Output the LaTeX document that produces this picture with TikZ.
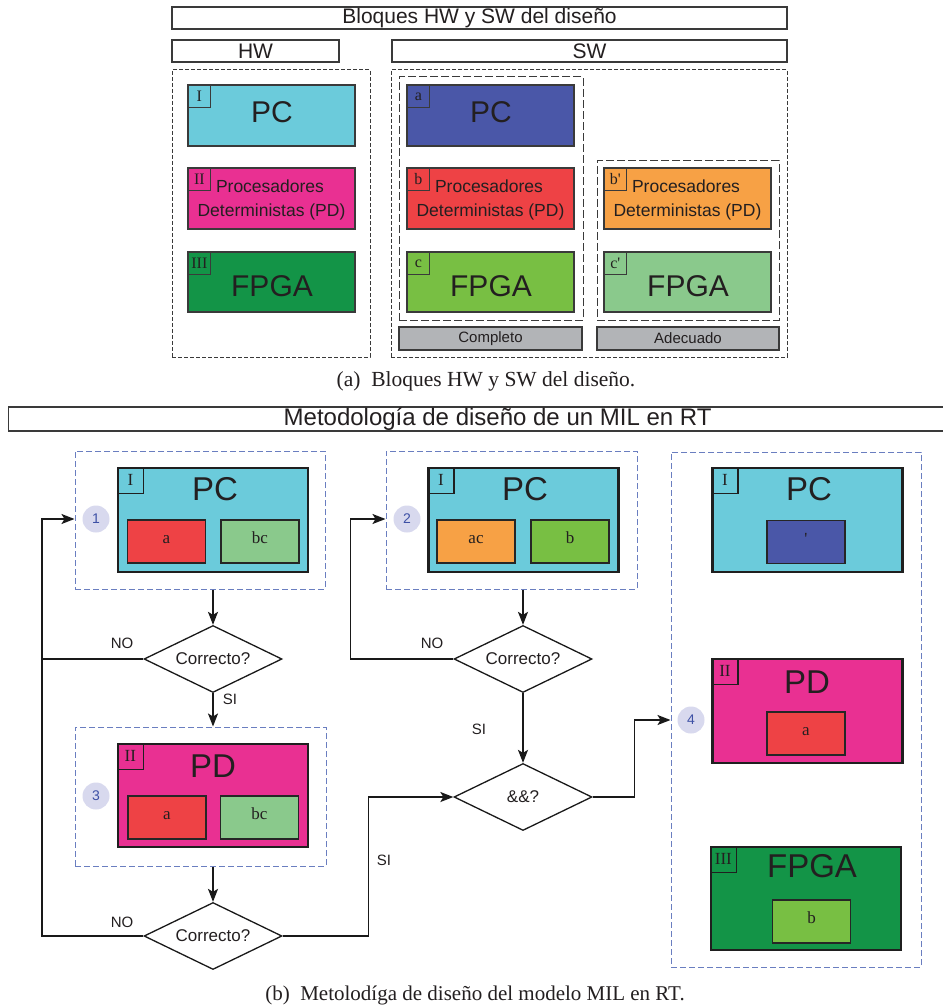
\documentclass[tikz,border=0pt]{standalone}
\usepackage{fontspec}
\setmainfont{Liberation Serif}
\setsansfont{Liberation Sans}
\usetikzlibrary{shapes.geometric,arrows.meta,calc}
\newcommand\fsz[1]{\fontsize{#1pt}{#1pt}\selectfont}
\definecolor{cpc}{HTML}{6BCBDB}
\definecolor{cpd}{HTML}{E93092}
\definecolor{cfp}{HTML}{139447}
\definecolor{ca}{HTML}{4A57A8}
\definecolor{cb}{HTML}{EE4245}
\definecolor{cc}{HTML}{78BF43}
\definecolor{cbp}{HTML}{F7A145}
\definecolor{ccp}{HTML}{8AC98C}
\definecolor{cgray}{HTML}{B2B4B7}
\definecolor{ccirc}{HTML}{D8D9EE}
\definecolor{cnum}{HTML}{3D50A5}
\definecolor{cdash}{HTML}{6A7EC0}
\definecolor{cline}{HTML}{3A3A3A}
\definecolor{ctext}{HTML}{231F20}
\tikzset{
  abox/.style={draw=cline, line width=1.3pt, inner sep=0, minimum width=167pt, minimum height=61pt},
  alab/.style={draw=cline, line width=1pt, inner sep=0, minimum size=23pt, anchor=north west, font=\fsz{16}, text=ctext},
  abig/.style={font=\sffamily\fsz{30}, text=ctext, inner sep=0, anchor=base},
  amid/.style={font=\sffamily\fsz{17.5}, text=ctext, inner sep=0, anchor=base},
  head/.style={draw=cline, line width=1.2pt, inner sep=0, font=\sffamily\fsz{21}, text=ctext},
  agrp/.style={draw=cline, line width=1pt, dash pattern=on 4pt off 2pt, inner sep=0},
  igrp/.style={draw=cline, line width=1pt, dash pattern=on 8pt off 3pt, inner sep=0},
  gbar/.style={draw=cline, line width=1.2pt, fill=cgray, inner sep=0, minimum height=23pt, font=\sffamily\fsz{15}, text=ctext},
  bbox/.style={draw=black!88, line width=2.4pt, inner sep=0, minimum width=190pt, minimum height=104pt},
  bsub/.style={draw=black!85, line width=1.4pt, inner sep=0, minimum width=78pt, minimum height=43pt, font=\fsz{17}, text=ctext, text height=0.68em, text depth=0.2em},
  blab/.style={draw=black!88, line width=1.2pt, inner sep=0, minimum size=26pt, anchor=north west, font=\fsz{17}, text=ctext},
  bbig/.style={font=\sffamily\fsz{33}, text=ctext, inner sep=0},
  grp/.style={draw=cdash, line width=1pt, dash pattern=on 6pt off 3pt, inner sep=0},
  circ/.style={circle, fill=ccirc, minimum size=27pt, inner sep=0, text=cnum, font=\sffamily\fsz{14}},
  dia/.style={diamond, draw=black!90, line width=1.3pt, minimum width=138pt, minimum height=67pt, aspect=2, inner sep=0, fill=white, font=\sffamily\fsz{17}, text=ctext},
  conn/.style={draw=black!90, line width=1.5pt},
  arr/.style={conn, -{Stealth[length=13pt,width=10pt,inset=3pt]}},
  lbl/.style={font=\sffamily\fsz{15}, text=ctext, inner sep=0},
  capt/.style={font=\fsz{21}, text=ctext, inner sep=0}
}
\begin{document}
\begin{tikzpicture}[x=1pt,y=-1pt]
\useasboundingbox[fill=white] (0,0) rectangle (942,1008);
% ---------------- part (a)
\node[head, minimum width=615pt, minimum height=22pt] (ttl) at (479.5,18) {Bloques HW y SW del diseño};
\node[head, minimum width=167pt, minimum height=22pt] (hw) at (255.5,51) {HW};
\node[head, minimum width=395pt, minimum height=22pt] (sw) at (589.5,51) {SW};
\node[agrp, minimum width=198pt, minimum height=287pt] (hwg) at (271,213.5) {};
\node[agrp, minimum width=396pt, minimum height=287pt] (swg) at (589,213.5) {};
\node[igrp, minimum width=184pt, minimum height=243pt] (cg) at (491,198.5) {};
\node[igrp, minimum width=182pt, minimum height=159pt] (ag) at (688,240.5) {};
\node[gbar, minimum width=183pt] (comp) at (490.5,338.5) {Completo};
\node[gbar, minimum width=182pt] (adec) at (688,338.5) {Adecuado};
% HW column
\node[abox, fill=cpc] (hI) at (271.5,115.5) {};
\node[alab] (hIl) at (hI.north west) {I};
\node[abig] (hIt) at (272,123) {PC};
\node[abox, fill=cpd] (hII) at (271.5,198.5) {};
\node[alab] (hIIl) at (hII.north west) {II};
\node[amid] (hIIt1) at (270,193) {Procesadores};
\node[amid] (hIIt2) at (271.5,217) {Deterministas (PD)};
\node[abox, fill=cfp, minimum height=60pt] (hIII) at (271.5,282) {};
\node[alab] (hIIIl) at (hIII.north west) {III};
\node[abig] (hIIIt) at (272,296) {FPGA};
% SW complete
\node[abox, fill=ca] (sa) at (490.5,115.5) {};
\node[alab] (sal) at (sa.north west) {a};
\node[abig] (sat) at (491,123) {PC};
\node[abox, fill=cb] (sb) at (490.5,198.5) {};
\node[alab] (sbl) at (sb.north west) {b};
\node[amid] (sbt1) at (489,193) {Procesadores};
\node[amid] (sbt2) at (490.5,217) {Deterministas (PD)};
\node[abox, fill=cc, minimum height=60pt] (sc) at (490.5,282) {};
\node[alab] (scl) at (sc.north west) {c};
\node[abig] (sct) at (491,296) {FPGA};
% SW adequate
\node[abox, fill=cbp] (sbp) at (687.5,198.5) {};
\node[alab] (sbpl) at (sbp.north west) {b\textquotesingle};
\node[amid] (sbpt1) at (686,193) {Procesadores};
\node[amid] (sbpt2) at (687.5,217) {Deterministas (PD)};
\node[abox, fill=ccp, minimum height=60pt] (scp) at (687.5,282) {};
\node[alab] (scpl) at (scp.north west) {c\textquotesingle};
\node[abig] (scpt) at (688,296) {FPGA};
\node[capt, font=\fsz{21.5}] (capa) at (486,381) {(a)\ \ Bloques HW y SW del diseño.};
% ---------------- part (b)
\node[head, font=\sffamily\fsz{24}, minimum width=940pt, minimum height=24pt, anchor=west] (ttlb) at (8,419) {\hspace{38pt}Metodología de diseño de un MIL en RT};
% groups
\node[grp, minimum width=250pt, minimum height=138pt] (b1) at (200,520) {};
\node[grp, minimum width=251pt, minimum height=138pt] (b2) at (511.5,520) {};
\node[grp, minimum width=251pt, minimum height=139pt] (b3) at (200.5,796.5) {};
\node[grp, minimum width=250pt, minimum height=515pt] (b4) at (796,709.5) {};
% block 1
\node[bbox, fill=cpc] (p1) at (213,520) {};
\node[blab] (p1l) at (p1.north west) {I};
\node[bbig] (p1t) at (215,489) {PC};
\node[bsub, fill=cb] (s1a) at (166.5,541.5) {a};
\node[bsub, fill=ccp] (s1b) at (260,541.5) {bc};
\node[circ] (c1) at (96,519) {1};
% block 2
\node[bbox, fill=cpc] (p2) at (523.5,520) {};
\node[blab] (p2l) at (p2.north west) {I};
\node[bbig] (p2t) at (525,489) {PC};
\node[bsub, fill=cbp] (s2a) at (476,541.5) {ac};
\node[bsub, fill=cc] (s2b) at (570,541.5) {b};
\node[circ] (c2) at (407,519) {2};
% block 3
\node[bbox, fill=cpd, minimum height=103pt] (p3) at (213,795.5) {};
\node[blab] (p3l) at (p3.north west) {II};
\node[bbig] (p3t) at (213,766) {PD};
\node[bsub, fill=cb] (s3a) at (167,817.5) {a};
\node[bsub, fill=ccp] (s3b) at (259.5,817.5) {bc};
\node[circ] (c3) at (96,796) {3};
% block 4
\node[bbox, fill=cpc] (p4) at (807.5,520) {};
\node[blab] (p4l) at (p4.north west) {I};
\node[bbig] (p4t) at (809,489) {PC};
\node[bsub, fill=ca] (s4a) at (806,542) {\textquotesingle};
\node[bbox, fill=cpd] (p5) at (807.5,711) {};
\node[blab] (p5l) at (p5.north west) {II};
\node[bbig] (p5t) at (807,682) {PD};
\node[bsub, fill=cb] (s5a) at (806,733.5) {a};
\node[bbox, fill=cfp, minimum height=103pt] (p6) at (806,898.5) {};
\node[blab] (p6l) at (p6.north west) {III};
\node[bbig] (p6t) at (812,866) {FPGA};
\node[bsub, fill=cc] (s6a) at (811.5,921.5) {b};
\node[circ] (c4) at (691,720) {4};
% decisions
\node[dia] (d1) at (213,659) {Correcto?};
\node[dia] (d2) at (523,659) {Correcto?};
\node[dia] (d3) at (523,797) {\&\&?};
\node[dia] (d4) at (213,936) {Correcto?};
% connectors
\coordinate (lc) at (42,519);
\draw[arr] (b1.south -| d1.north) -- (d1.north);
\draw[arr] (d1.south) -- (d1.south |- b3.north);
\draw[arr] (b3.south -| d4.north) -- (d4.north);
\draw[arr] (d4.west) -| (lc) -- (b1.west |- lc);
\draw[conn] (d1.west) -- (d1.west -| lc);
\draw[arr] (b2.south -| d2.north) -- (d2.north);
\draw[arr] (d2.west) -| ([xshift=-35pt]b2.west |- c2) -- (b2.west |- c2);
\draw[arr] (d2.south) -- (d3.north);
\draw[arr] (d4.east) -| ([xshift=-85pt]d3.west) -- (d3.west);
\draw[arr] (d3.east) -| ([xshift=-36pt]b4.west |- c4) -- (b4.west |- c4);
% labels
\node[lbl] (no1) at (122,643) {NO};
\node[lbl] (no2) at (432,643) {NO};
\node[lbl] (no3) at (122,922) {NO};
\node[lbl] (si1) at (230,699) {SI};
\node[lbl] (si2) at (479,729) {SI};
\node[lbl] (si3) at (384,860) {SI};
\node[capt] (capb) at (475,995) {(b)\ \ Metolodíga de diseño del modelo MIL en RT.};
\end{tikzpicture}
\end{document}
